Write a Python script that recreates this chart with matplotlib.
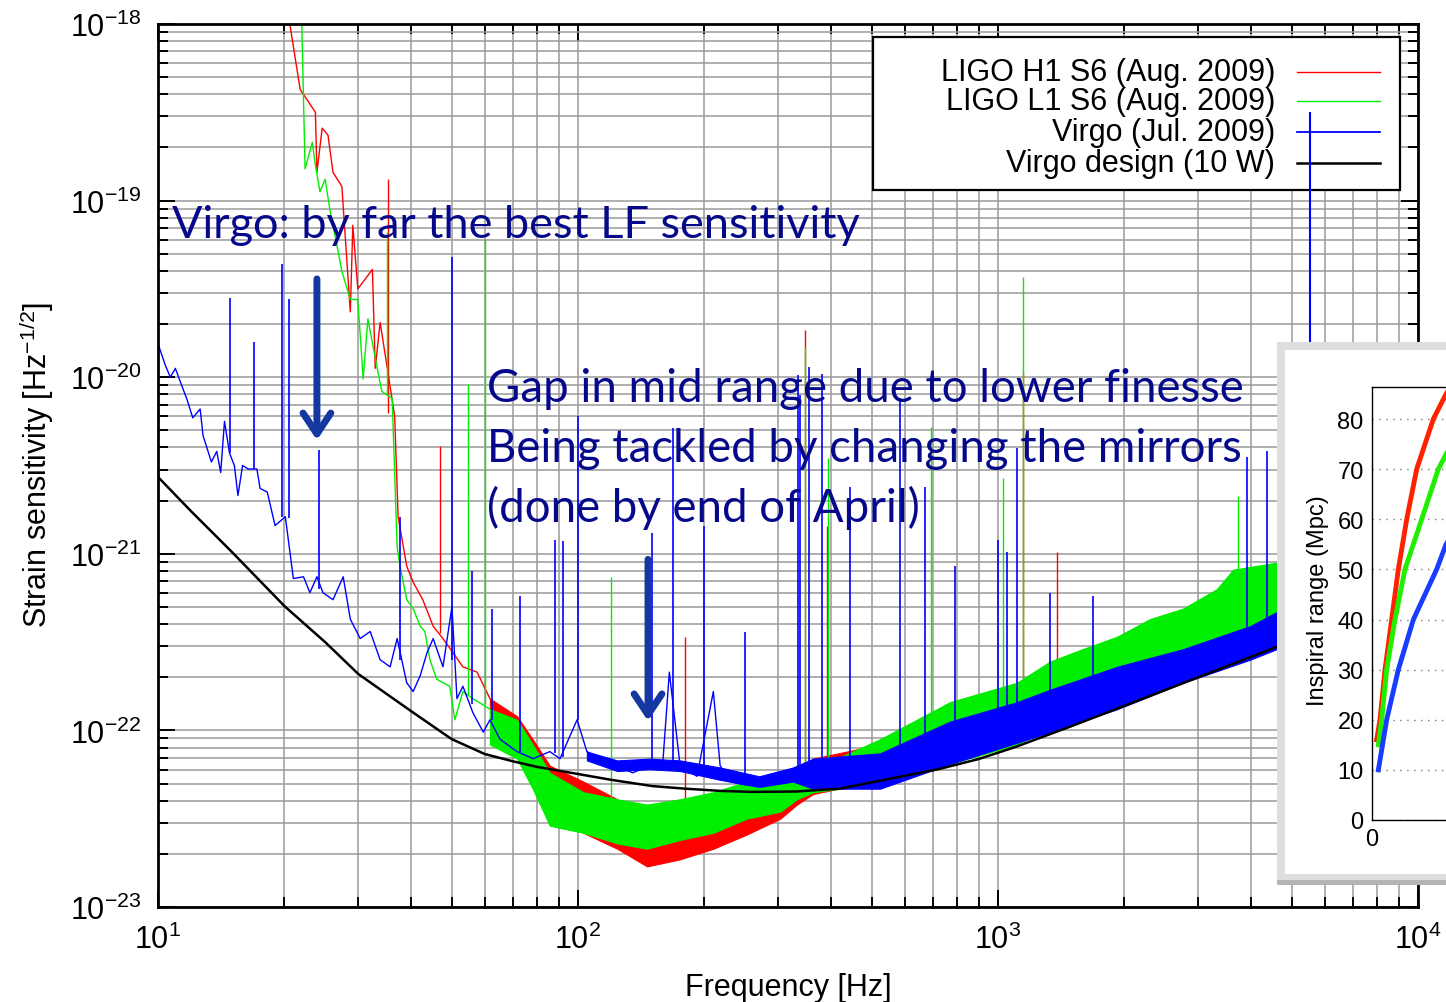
import numpy as np
import matplotlib
matplotlib.use('Agg')
import matplotlib.pyplot as plt
from matplotlib.patches import Rectangle
from matplotlib.ticker import NullFormatter, FixedLocator

plt.rcParams['font.family'] = ['Liberation Sans', 'DejaVu Sans']
plt.rcParams['mathtext.fontset'] = 'custom'
plt.rcParams['mathtext.rm'] = 'Liberation Sans'
plt.rcParams['mathtext.it'] = 'Liberation Sans:italic'
plt.rcParams['mathtext.bf'] = 'Liberation Sans:bold'
plt.rcParams['axes.unicode_minus'] = False

RED = '#ff0000'
GREEN = '#00ee00'
BLUE = '#0000ff'
NAVY = '#06088c'
ARROW = '#1438a0'

# ---- data (frequency in Hz, strain as log10 value) ----
# LIGO H1 S6: thin low frequency part
h1_f = [20.1, 20.6, 21.8, 23.7, 23.9, 24.6, 25.4, 26.1, 27.4, 28.7, 29.1, 29.9, 32.4, 32.9,
        33.8, 35.1, 36.6, 37.3, 39.1, 40.5, 42.7, 45.2, 47.7, 50.4, 53.2, 57.5, 61.7]
h1_logh = [-17.89, -18.00, -18.37, -18.50, -18.84, -18.59, -18.63, -18.84, -18.92, -19.63, -19.14,
           -19.50, -19.39, -19.95, -19.69, -19.94, -20.22, -20.79, -21.07, -21.16, -21.26, -21.41,
           -21.48, -21.56, -21.64, -21.67, -21.82]
# H1 noise band
h1_band_f = [61.7, 71.6, 78.0, 85.7, 103, 124, 146, 175, 210, 252, 303, 332, 363, 524, 756,
             1110, 1920, 2900, 4610, 5000]
h1_band_hi = [-21.82, -21.92, -22.05, -22.20, -22.29, -22.39, -22.48, -22.44, -22.39, -22.33,
              -22.28, -22.22, -22.16, -22.08, -21.93, -21.80, -21.58, -21.40, -21.20, -21.18]
h1_band_lo = [-21.93, -22.11, -22.25, -22.39, -22.58, -22.67, -22.77, -22.73, -22.67, -22.59,
              -22.50, -22.42, -22.36, -22.28, -22.16, -22.04, -21.85, -21.69, -21.50, -21.48]
h1_spike_f = [35.3, 46.9, 180, 347, 392, 1150, 1380]
h1_spike_base = [-20.20, -21.45, -22.45, -22.20, -22.20, -21.80, -21.70]
h1_spike_top = [-18.88, -20.39, -21.47, -19.73, -20.84, -19.97, -20.99]

# LIGO L1 S6
l1_f = [21.8, 22.0, 22.2, 22.4, 23.3, 23.7, 24.3, 25.0, 25.7, 26.7, 27.4, 28.7, 29.9, 30.8, 31.6,
        33.2, 34.1, 36.1, 37.1, 37.7, 39.1, 40.5, 42.1, 43.2, 44.4, 46.1, 47.7, 49.5, 50.9, 53.2,
        56.2, 61.7]
l1_logh = [-17.89, -18.00, -18.42, -18.82, -18.67, -18.80, -18.95, -18.88, -19.06, -19.26, -19.40,
           -19.56, -19.56, -20.01, -19.67, -19.94, -20.08, -20.12, -20.96, -21.07, -21.26, -21.31,
           -21.41, -21.44, -21.60, -21.71, -21.73, -21.75, -21.94, -21.78, -21.82, -21.88]
l1_band_f = [61.7, 71.6, 78.0, 85.7, 103, 124, 146, 175, 210, 252, 303, 332, 363, 524, 769,
             1110, 1330, 1590, 1920, 2300, 2760, 3320, 3630, 4610, 5000]
l1_band_hi = [-21.88, -21.94, -22.08, -22.24, -22.35, -22.39, -22.42, -22.39, -22.35, -22.29,
              -22.28, -22.20, -22.22, -22.05, -21.84, -21.73, -21.61, -21.54, -21.47, -21.37,
              -21.31, -21.20, -21.09, -21.05, -21.02]
l1_band_lo = [-22.08, -22.16, -22.33, -22.54, -22.58, -22.64, -22.67, -22.62, -22.58, -22.50,
              -22.46, -22.39, -22.35, -22.30, -22.19, -22.08, -21.99, -21.92, -21.85, -21.78,
              -21.72, -21.66, -21.62, -21.53, -21.50]
l1_spike_f = [35.1, 54.7, 60.0, 120, 347, 394, 692, 1030, 1150, 3730]
l1_spike_base = [-20.10, -21.80, -21.85, -22.40, -22.25, -22.25, -21.95, -21.80, -21.75, -21.20]
l1_spike_top = [-19.18, -20.04, -19.22, -21.13, -19.83, -20.46, -20.28, -20.57, -19.43, -20.67]

# Virgo Jul. 2009
v1_f = [10.0, 10.4, 10.7, 11.0, 11.4, 11.7, 12.1, 12.6, 12.8, 13.4, 13.8, 14.1, 14.4, 14.8, 15.2,
        15.5, 15.9, 16.4, 17.2, 17.5, 18.2, 19.0, 20.1, 21.0, 22.2, 23.0, 23.9, 24.7, 26.1, 27.6,
        28.7, 30.3, 32.0, 33.8, 35.7, 37.1, 39.1, 40.5, 42.1, 43.7, 45.2, 47.7, 50.1, 51.5, 53.2,
        56.2, 59.5, 61.7, 65.2, 71.6, 78.2, 85.7, 90.6, 99.5, 105, 113, 124, 135, 148, 159, 165,
        175, 192, 210, 218, 230, 252, 276, 303, 325]
v1_logh = [-19.81, -19.93, -20.00, -19.95, -20.05, -20.12, -20.23, -20.18, -20.33, -20.48, -20.42,
           -20.54, -20.25, -20.43, -20.50, -20.67, -20.50, -20.52, -20.52, -20.63, -20.65, -20.84,
           -20.79, -21.14, -21.13, -21.22, -21.13, -21.22, -21.26, -21.13, -21.37, -21.48, -21.44,
           -21.60, -21.64, -21.48, -21.73, -21.78, -21.69, -21.56, -21.48, -21.64, -21.30, -21.82,
           -21.75, -21.90, -22.01, -21.94, -22.05, -22.12, -22.16, -22.12, -22.16, -21.94, -22.12,
           -22.16, -22.20, -22.24, -22.20, -22.20, -21.67, -22.20, -22.26, -21.78, -22.20, -22.29,
           -22.31, -22.29, -22.29, -22.24]
v1_band_f = [105, 124, 148, 175, 218, 270, 325, 363, 524, 769, 1110, 1330, 1920, 2760, 3980,
             4610, 5000]
v1_band_hi = [-22.12, -22.17, -22.16, -22.17, -22.21, -22.26, -22.21, -22.16, -22.13, -21.95,
              -21.84, -21.77, -21.64, -21.54, -21.41, -21.33, -21.30]
v1_band_lo = [-22.17, -22.23, -22.22, -22.23, -22.28, -22.32, -22.29, -22.33, -22.33, -22.19,
              -22.07, -22.01, -21.88, -21.73, -21.60, -21.54, -21.51]
v1_spike_f = [14.8, 16.9, 19.7, 20.5, 24.2, 37.7, 50.1, 56.0, 62.4, 72.8, 88.1, 92.1, 100, 150,
              168, 200, 250, 334, 338, 355, 381, 445, 585, 670, 791, 1000, 1050, 1110, 1330,
              1680, 3920, 4370]
v1_spike_base = [-20.43, -20.52, -20.79, -20.80, -21.20, -21.60, -21.60, -21.85, -21.94, -22.12,
                 -22.13, -22.15, -21.94, -22.20, -22.20, -22.26, -22.31, -22.24, -22.24, -22.20,
                 -22.20, -22.20, -22.10, -22.05, -22.00, -21.90, -21.90, -21.85, -21.80, -21.70,
                 -21.45, -21.40]
v1_spike_top = [-19.55, -19.80, -19.36, -19.56, -20.41, -20.79, -19.32, -21.10, -21.31, -21.24,
                -20.92, -20.93, -20.22, -20.88, -20.29, -20.84, -21.44, -19.99, -20.10, -19.94,
                -19.98, -20.62, -20.12, -20.62, -21.07, -20.92, -20.99, -20.40, -21.22, -21.24,
                -20.45, -20.42]
v1_tall_f = [5530]
v1_tall_base = [-21.35]
v1_tall_top = [-18.50]

# Virgo design (10 W)
design_f = [10, 12, 15, 20, 25, 30, 40, 50, 60, 70, 80, 100, 120, 150, 180, 220, 260, 330, 420,
            580, 720, 900, 1100, 1500, 2300, 4600, 10000]
design_logh = [-20.565, -20.76, -20.99, -21.296, -21.50, -21.681, -21.89, -22.049, -22.134,
               -22.175, -22.207, -22.247, -22.28, -22.315, -22.33, -22.343, -22.348, -22.346,
               -22.33, -22.264, -22.22, -22.162, -22.094, -21.975, -21.805, -21.528, -21.22]

legend_labels = ['LIGO H1 S6 (Aug. 2009)', 'LIGO L1 S6 (Aug. 2009)',
                 'Virgo (Jul. 2009)', 'Virgo design (10 W)']

# arrows: (frequency, tail strain, tip strain)
arrow_f = [23.9, 146.8]
arrow_tail = [3.6e-20, 9.3e-22]
arrow_tip = [4.4e-21, 1.13e-22]

# inset: inspiral range (Mpc)
ins_red_x = [0.65, 1.11, 1.80, 2.72, 3.64, 4.80, 6.18, 8.48, 10.24, 11.5]
ins_red_y = [16, 20, 30, 40, 50, 60, 70, 80, 85, 88]
ins_green_x = [0.88, 1.34, 2.03, 3.18, 4.56, 6.87, 9.17, 10.24, 11.5]
ins_green_y = [15, 20, 30, 40, 50, 60, 70, 73, 76]
ins_blue_x = [0.88, 2.03, 3.64, 5.72, 8.94, 10.24, 11.5]
ins_blue_y = [10, 20, 30, 40, 50, 55, 58]


def p(a):
    return 10.0 ** np.asarray(a)


fig = plt.figure(figsize=(14.46, 10.03), dpi=100)
ax = fig.add_axes([158 / 1446, 95 / 1003, 1260 / 1446, 883 / 1003])
ax.set_xscale('log')
ax.set_yscale('log')

# H1 (red)
ax.fill_between(h1_band_f, p(h1_band_lo), p(h1_band_hi), color=RED, lw=0.8, zorder=2)
ax.plot(h1_f, p(h1_logh), color=RED, lw=1.0, zorder=2)
ax.vlines(h1_spike_f, p(h1_spike_base), p(h1_spike_top), color=RED, lw=1.0, zorder=2)
# L1 (green)
ax.fill_between(l1_band_f, p(l1_band_lo), p(l1_band_hi), color=GREEN, lw=0.8, zorder=2.1)
ax.plot(l1_f, p(l1_logh), color=GREEN, lw=1.0, zorder=2.1)
ax.vlines(l1_spike_f, p(l1_spike_base), p(l1_spike_top), color=GREEN, lw=1.0, zorder=2.1)
# Virgo (blue)
ax.fill_between(v1_band_f, p(v1_band_lo), p(v1_band_hi), color=BLUE, lw=0.8, zorder=2.2)
ax.plot(v1_f, p(v1_logh), color=BLUE, lw=1.0, zorder=2.2)
ax.vlines(v1_spike_f, p(v1_spike_base), p(v1_spike_top), color=BLUE, lw=1.2, zorder=2.2)
# design (black)
ax.plot(design_f, p(design_logh), color='black', lw=1.8, zorder=2.5)

ax.set_xlim(10, 1e4)
ax.set_ylim(1e-23, 1e-18)
ax.xaxis.set_major_locator(FixedLocator([1e1, 1e2, 1e3, 1e4]))
ax.yaxis.set_major_locator(FixedLocator([1e-23, 1e-22, 1e-21, 1e-20, 1e-19, 1e-18]))
ax.set_axisbelow(True)
ax.grid(which='both', color='#9a9a9a', lw=1.1)
ax.yaxis.set_minor_formatter(NullFormatter())
ax.xaxis.set_minor_formatter(NullFormatter())
ax.tick_params(which='both', direction='in', top=True, right=True, width=1.4, labelsize=22)
ax.tick_params(which='major', length=12, pad=12)
ax.tick_params(which='minor', length=7)
for s in ax.spines.values():
    s.set_linewidth(2.0)

ax.set_xlabel('Frequency [Hz]', fontsize=22)
ax.set_ylabel('Strain sensitivity [Hz$^{-1/2}$]', fontsize=22)
ax.xaxis.set_label_coords(0.5, -0.074)
ax.yaxis.set_label_coords(-0.081, 0.502)

# legend box (gnuplot style: text right aligned, sample on the right)
ax.add_patch(Rectangle((0.5675, 0.812), 0.4182, 0.1733, transform=ax.transAxes,
                       facecolor='white', edgecolor='black', lw=1.6, zorder=4))
legend_colors = [RED, GREEN, BLUE, 'black']
legend_widths = [1.0, 1.0, 1.3, 1.8]
legend_rows = [0.9455, 0.9133, 0.8782, 0.8431]
for lab, col, w, yy in zip(legend_labels, legend_colors, legend_widths, legend_rows):
    ax.text(0.8865, yy, lab, ha='right', va='center', fontsize=22,
            transform=ax.transAxes, zorder=5)
    ax.plot([0.904, 0.970], [yy, yy], color=col, lw=w, transform=ax.transAxes, zorder=5)

# the 5.5 kHz Virgo line runs over the legend
ax.vlines(v1_tall_f, p(v1_tall_base), p(v1_tall_top), color=BLUE, lw=1.5, zorder=5.5)

# arrows
for f, tail, tip in zip(arrow_f, arrow_tail, arrow_tip):
    ax.annotate('', xy=(f, tip), xytext=(f, tail),
                arrowprops=dict(arrowstyle='->,head_length=0.75,head_width=0.5',
                                color=ARROW, lw=5, mutation_scale=20,
                                shrinkA=0, shrinkB=0), zorder=7)

# slide annotations
fig.text(172 / 1446, (1003 - 238) / 1003, 'Virgo: by far the best LF sensitivity',
         fontfamily='Lato', fontsize=32.5, color=NAVY, va='baseline', ha='left', zorder=20)
notes = ['Gap in mid range due to lower finesse',
         'Being tackled by changing the mirrors',
         '(done by end of April)']
for txt, yb in zip(notes, [402, 462, 522]):
    fig.text(487 / 1446, (1003 - yb) / 1003, txt, fontfamily='Lato', fontsize=32.9,
             color=NAVY, va='baseline', ha='left', zorder=20)

# inset frame
fig.add_artist(Rectangle((1277 / 1446, (1003 - 886) / 1003), 0.2, 543 / 1003,
                         transform=fig.transFigure, facecolor='#b4b4b4', edgecolor='none',
                         zorder=1))
fig.add_artist(Rectangle((1277 / 1446, (1003 - 881) / 1003), 0.2, 538 / 1003,
                         transform=fig.transFigure, facecolor='#dedede', edgecolor='none',
                         zorder=1.1))
fig.add_artist(Rectangle((1285 / 1446, (1003 - 875) / 1003), 0.2, 524 / 1003,
                         transform=fig.transFigure, facecolor='white', edgecolor='none',
                         zorder=1.2))

ins = fig.add_axes([1372 / 1446, 182 / 1003, 0.25, 433 / 1003], zorder=3)
ins.plot(ins_red_x, ins_red_y, color='#ff2200', lw=3.5)
ins.plot(ins_green_x, ins_green_y, color='#22ee00', lw=3.5)
ins.plot(ins_blue_x, ins_blue_y, color='#1a3cff', lw=3.5)
ins.set_xlim(0, 50)
ins.set_ylim(0, 86.4)
ins.yaxis.set_major_locator(FixedLocator([0, 10, 20, 30, 40, 50, 60, 70, 80]))
ins.xaxis.set_major_locator(FixedLocator([0]))
ins.tick_params(length=0, labelsize=17, pad=6)
ins.yaxis.grid(True, ls=(0, (1, 4)), color='#777777', lw=1)
ins.set_ylabel('Inspiral range (Mpc)', fontsize=17)
ins.yaxis.set_label_coords(-0.12, 0.51)
for s in ins.spines.values():
    s.set_linewidth(1.0)

fig.savefig('out.png', dpi=100)
